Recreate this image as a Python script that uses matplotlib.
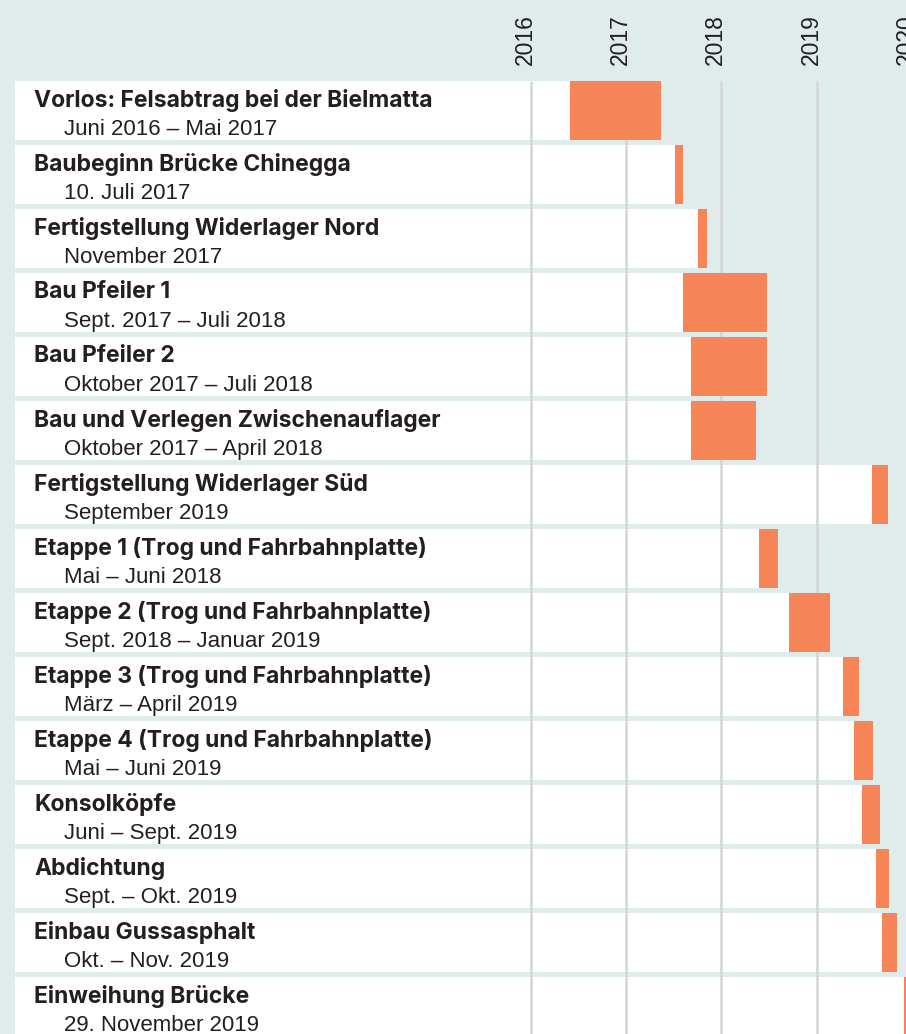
import numpy as np
import matplotlib
matplotlib.use("Agg")
import matplotlib.pyplot as plt
from matplotlib.transforms import blended_transform_factory

# task titles, date text and start/end in decimal years
titles = [
    "Vorlos: Felsabtrag bei der Bielmatta",
    "Baubeginn Brücke Chinegga",
    "Fertigstellung Widerlager Nord",
    "Bau Pfeiler 1",
    "Bau Pfeiler 2",
    "Bau und Verlegen Zwischenauflager",
    "Fertigstellung Widerlager Süd",
    "Etappe 1 (Trog und Fahrbahnplatte)",
    "Etappe 2 (Trog und Fahrbahnplatte)",
    "Etappe 3 (Trog und Fahrbahnplatte)",
    "Etappe 4 (Trog und Fahrbahnplatte)",
    "Konsolköpfe",
    "Abdichtung",
    "Einbau Gussasphalt",
    "Einweihung Brücke",
]
dates = [
    "Juni 2016 – Mai 2017",
    "10. Juli 2017",
    "November 2017",
    "Sept. 2017 – Juli 2018",
    "Oktober 2017 – Juli 2018",
    "Oktober 2017 – April 2018",
    "September 2019",
    "Mai – Juni 2018",
    "Sept. 2018 – Januar 2019",
    "März – April 2019",
    "Mai – Juni 2019",
    "Juni – Sept. 2019",
    "Sept. – Okt. 2019",
    "Okt. – Nov. 2019",
    "29. November 2019",
]
start = [2016.417, 2017.514, 2017.759, 2017.601, 2017.685, 2017.685, 2019.585,
         2018.399, 2018.714, 2019.280, 2019.396, 2019.480, 2019.626, 2019.683, 2019.912]
end = [2017.367, 2017.603, 2017.847, 2018.483, 2018.483, 2018.361, 2019.752,
       2018.592, 2019.144, 2019.448, 2019.595, 2019.668, 2019.757, 2019.844, 2019.950]
years = [2016, 2017, 2018, 2019, 2020]

bg = "#e0ecec"
orange = "#f68658"
ink = "#231f20"

W, H = 906, 1034
fig = plt.figure(figsize=(W / 100, H / 100), dpi=100, facecolor=bg)
ax = fig.add_axes([0, 0, 1, 1], facecolor=bg)

# pixel <-> data mapping
ppy = 95.3            # pixels per year
x0 = 2016 - 530.7 / ppy
ax.set_xlim(x0, x0 + W / ppy)
pitch = 64.0
yc0 = 110.5
ax.set_ylim((H - yc0) / pitch, -yc0 / pitch)
ax.axis("off")

n = len(titles)
pos = np.arange(n)
band_h = 59 / pitch
left = x0 + 15 / ppy
start = np.array(start)
end = np.array(end)

ax.barh(pos, start - left, left=left, height=band_h, color="white", zorder=1)
ax.vlines(years, -band_h / 2, (H - yc0) / pitch, color="#d3d5d6", lw=1.8, zorder=2)
ax.barh(pos, end - start, left=start, height=band_h, color=orange, zorder=3)

for y in years:
    ax.text(y - 5.5 / ppy, (65 - yc0) / pitch, str(y), rotation=90, ha="center",
            va="bottom", fontsize=16.5, color=ink, family="Liberation Sans")

tr = blended_transform_factory(ax.transAxes, ax.transData)
for i in range(n):
    ax.text(34 / W, i - 4.0 / pitch, titles[i], transform=tr, fontsize=16.5,
            fontweight="bold", color=ink, va="baseline", family="Inter", zorder=4)
    ax.text(64 / W, i + 24.8 / pitch, dates[i], transform=tr, fontsize=16,
            color=ink, va="baseline", family="Liberation Sans", zorder=4)

fig.savefig("out.png", dpi=100, facecolor=bg)
